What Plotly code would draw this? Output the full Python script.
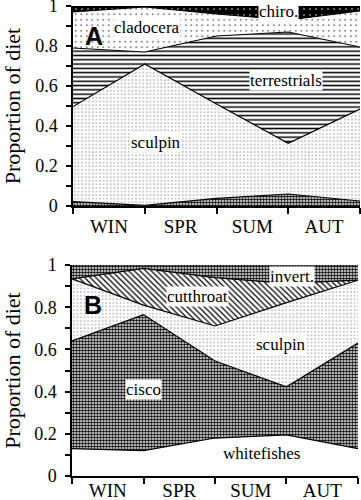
import plotly.graph_objects as go

# sampling points (season boundaries) and season labels
x_pts = [0, 1, 2, 3, 4]
seasons = ["WIN", "SPR", "SUM", "AUT"]
season_pos = [0.5, 1.5, 2.5, 3.5]

# Panel A: proportions of diet
a_other = [0.022, 0.003, 0.038, 0.06, 0.025]
a_sculpin = [0.475, 0.707, 0.472, 0.253, 0.46]
a_terrestrials = [0.293, 0.06, 0.34, 0.557, 0.31]
a_cladocera = [0.18, 0.225, 0.11, 0.06, 0.18]
a_chiro = [0.03, 0.005, 0.04, 0.07, 0.025]

# Panel B: proportions of diet
b_whitefishes = [0.13, 0.12, 0.18, 0.195, 0.13]
b_cisco = [0.51, 0.645, 0.365, 0.228, 0.5]
b_sculpin = [0.294, 0.045, 0.166, 0.399, 0.298]
b_cutthroat = [0.0, 0.174, 0.229, 0.091, 0.0]
b_invert = [0.066, 0.016, 0.06, 0.087, 0.072]

y_ticks = [0, 0.2, 0.4, 0.6, 0.8, 1]
y_ticktext = ["0", "0.2", "0.4", "0.6", "0.8", "1"]

SERIF = "Liberation Serif"

def pat(shape, size, solidity, fg="black", bg="white"):
    return dict(shape=shape, size=size, solidity=solidity, fgcolor=fg, bgcolor=bg, fillmode="replace")

CHECK = pat(".", 3, 0.6)
FINEDOT = pat(".", 3.6, 0.06)
HLINES = pat("-", 4.3, 0.35)
SPARSE = pat(".", 5.5, 0.06)
DIAG = pat("\\", 4, 0.3)
CHIRO = pat(".", 6, 0.05, fg="white", bg="black")
PLAIN = None

fig = go.Figure()

def add_layer(y, pattern, group, xa, ya, fillcolor="white"):
    kw = dict(x=x_pts, y=y, mode="lines", stackgroup=group,
              line=dict(color="black", width=1.2),
              fillcolor=fillcolor, xaxis=xa, yaxis=ya,
              hoverinfo="skip", showlegend=False)
    if pattern is not None:
        kw["fillpattern"] = pattern
    fig.add_trace(go.Scatter(**kw))

add_layer(a_other, CHECK, "a", "x", "y")
add_layer(a_sculpin, FINEDOT, "a", "x", "y")
add_layer(a_terrestrials, HLINES, "a", "x", "y")
add_layer(a_cladocera, SPARSE, "a", "x", "y")
add_layer(a_chiro, CHIRO, "a", "x", "y", fillcolor="black")

add_layer(b_whitefishes, PLAIN, "b", "x2", "y2")
add_layer(b_cisco, CHECK, "b", "x2", "y2")
add_layer(b_sculpin, FINEDOT, "b", "x2", "y2")
add_layer(b_cutthroat, DIAG, "b", "x2", "y2")
add_layer(b_invert, CHECK, "b", "x2", "y2")

def xaxis(domain, anchor, standoff):
    return dict(domain=domain, anchor=anchor, range=[0, 4], showgrid=False, zeroline=False,
                automargin=False, ticklabeloverflow="allow",
                showline=True, linecolor="black", linewidth=1.5,
                tickmode="array", tickvals=season_pos, ticktext=seasons,
                ticks="", ticklabelstandoff=standoff,
                tickfont=dict(family=SERIF, size=19, color="black"),
                minor=dict(tickmode="array", tickvals=x_pts, ticks="outside", ticklen=6,
                           tickwidth=1.5, tickcolor="black", showgrid=False))

def yaxis(domain, anchor):
    return dict(domain=domain, anchor=anchor, range=[0, 1], showgrid=False, zeroline=False,
                automargin=False, ticklabeloverflow="allow",
                showline=True, linecolor="black", linewidth=1.5,
                tickmode="array", tickvals=y_ticks, ticktext=y_ticktext,
                ticks="outside", ticklen=5, tickwidth=1.5, tickcolor="black",
                ticklabelstandoff=5,
                tickfont=dict(family=SERIF, size=18, color="black"),
                minor=dict(dtick=0.1, ticks="outside", ticklen=5, tickwidth=1.5,
                           tickcolor="black", showgrid=False),
                title=dict(text="Proportion of diet", font=dict(family=SERIF, size=22, color="black"),
                           standoff=12))

fig.update_layout(
    width=361, height=500,
    margin=dict(l=72, r=1, t=6, b=24),
    paper_bgcolor="white", plot_bgcolor="white",
    xaxis=xaxis([0.0035, 1.0], "y", 2),
    yaxis=yaxis([0.5745, 1.0], "x"),
    xaxis2=xaxis([0.0, 0.993], "y2", -4),
    yaxis2=yaxis([0.0, 0.4489], "x2"),
)

def label(text, x, y, xref, yref, bg="white"):
    fig.add_annotation(text=text, x=x, y=y, xref=xref, yref=yref, showarrow=False,
                       font=dict(family=SERIF, size=17, color="black"),
                       bgcolor=bg, borderpad=0)

label("chiro.", 2.86, 0.975, "x", "y")
label("cladocera", 1.03, 0.895, "x", "y")
label("terrestrials", 2.97, 0.625, "x", "y")
label("sculpin", 1.16, 0.315, "x", "y")

label("invert.", 3.08, 0.945, "x2", "y2")
label("cutthroat", 1.75, 0.85, "x2", "y2")
label("sculpin", 2.92, 0.625, "x2", "y2")
label("cisco", 1.0, 0.41, "x2", "y2")
label("whitefishes", 2.65, 0.105, "x2", "y2", bg="rgba(0,0,0,0)")

for txt, xr, yr, yy in [("A", "x", "y", 0.85), ("B", "x2", "y2", 0.81)]:
    fig.add_annotation(text="<b>%s</b>" % txt, x=0.29, y=yy, xref=xr, yref=yr, showarrow=False,
                       font=dict(family="Liberation Sans", size=25, color="black"))

fig.write_html("out.html", config={"displayModeBar": False},
               post_script="document.body.style.margin='0';document.body.style.padding='0';")
